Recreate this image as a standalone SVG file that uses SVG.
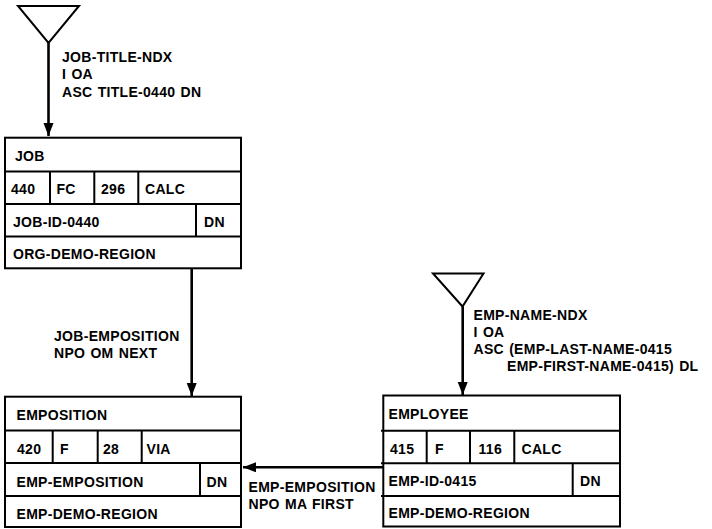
<svg xmlns="http://www.w3.org/2000/svg" width="712" height="529" viewBox="0 0 712 529">
<style>
  text { font-family: "Liberation Sans", Arial, sans-serif; font-size: 14px; font-weight: bold; fill: #000; letter-spacing: 0.3px; word-spacing: 1px; }
  .box { fill: #fff; stroke: #000; stroke-width: 2; }
  .div { stroke: #000; stroke-width: 2; fill: none; }
  .conn { stroke: #000; stroke-width: 2.6; fill: none; }
  .tri { fill: none; stroke: #000; stroke-width: 2; stroke-linejoin: miter; }
</style>
<defs>
  <marker id="arr" markerUnits="userSpaceOnUse" markerWidth="14" markerHeight="12" refX="13" refY="5" orient="auto">
    <path d="M0,0 L13,5 L0,10 Z" fill="#000"/>
  </marker>
</defs>
<rect width="712" height="529" fill="#fff"/>

<g id="connectors">
  <g id="job-title-ndx">
    <polygon class="tri" points="18,6 79,6 48.5,43"/>
    <line class="conn" x1="48.5" y1="43" x2="48.5" y2="136" marker-end="url(#arr)"/>
    <text x="62" y="61.5">JOB-TITLE-NDX</text>
    <text x="62" y="79">I OA</text>
    <text x="62" y="96.5">ASC TITLE-0440 DN</text>
  </g>
  <g id="job-emposition">
    <line class="conn" x1="191.7" y1="269" x2="191.7" y2="396" marker-end="url(#arr)"/>
    <text x="54" y="341">JOB-EMPOSITION</text>
    <text x="54" y="358">NPO OM NEXT</text>
  </g>
  <g id="emp-name-ndx">
    <polygon class="tri" points="433,273.5 483.5,273.5 462.5,306.5"/>
    <line class="conn" x1="462.7" y1="306.5" x2="462.7" y2="395" marker-end="url(#arr)"/>
    <text x="473.5" y="319.5">EMP-NAME-NDX</text>
    <text x="473.5" y="337">I OA</text>
    <text x="473.5" y="354">ASC (EMP-LAST-NAME-0415</text>
    <text x="507" y="371">EMP-FIRST-NAME-0415) DL</text>
  </g>
  <g id="emp-emposition">
    <line class="conn" x1="383" y1="467.3" x2="243" y2="467.3" marker-end="url(#arr)"/>
    <text x="248.5" y="491.5">EMP-EMPOSITION</text>
    <text x="248.5" y="508.5">NPO MA FIRST</text>
  </g>
</g>

<g id="job">
  <rect class="box" x="5" y="137.7" width="236" height="130.6"/>
  <line class="div" x1="5" y1="171.5" x2="241" y2="171.5"/>
  <line class="div" x1="5" y1="204" x2="241" y2="204"/>
  <line class="div" x1="5" y1="236.5" x2="241" y2="236.5"/>
  <line class="div" x1="50" y1="171.5" x2="50" y2="204"/>
  <line class="div" x1="94.3" y1="171.5" x2="94.3" y2="204"/>
  <line class="div" x1="138.3" y1="171.5" x2="138.3" y2="204"/>
  <line class="div" x1="196" y1="204" x2="196" y2="236.5"/>
  <text x="15" y="161">JOB</text>
  <text x="11" y="194">440</text>
  <text x="56.5" y="194">FC</text>
  <text x="101" y="194">296</text>
  <text x="145" y="194">CALC</text>
  <text x="13" y="226.5">JOB-ID-0440</text>
  <text x="204" y="226.5">DN</text>
  <text x="13" y="258.5">ORG-DEMO-REGION</text>
</g>

<g id="emposition">
  <rect class="box" x="5" y="396.7" width="236" height="130.3"/>
  <line class="div" x1="5" y1="430.5" x2="241" y2="430.5"/>
  <line class="div" x1="5" y1="463" x2="241" y2="463"/>
  <line class="div" x1="5" y1="496" x2="241" y2="496"/>
  <line class="div" x1="52.7" y1="430.5" x2="52.7" y2="463"/>
  <line class="div" x1="97.7" y1="430.5" x2="97.7" y2="463"/>
  <line class="div" x1="141.7" y1="430.5" x2="141.7" y2="463"/>
  <line class="div" x1="200" y1="463" x2="200" y2="496"/>
  <text x="16.5" y="419.5">EMPOSITION</text>
  <text x="17" y="454">420</text>
  <text x="60" y="454">F</text>
  <text x="103" y="454">28</text>
  <text x="146.5" y="454">VIA</text>
  <text x="16.5" y="487">EMP-EMPOSITION</text>
  <text x="206.5" y="487">DN</text>
  <text x="16.5" y="519">EMP-DEMO-REGION</text>
</g>

<g id="employee">
  <rect class="box" x="383.3" y="395.5" width="236.7" height="131"/>
  <line class="div" x1="381" y1="430.7" x2="620" y2="430.7"/>
  <line class="div" x1="381" y1="463.3" x2="620" y2="463.3"/>
  <line class="div" x1="381" y1="496" x2="620" y2="496"/>
  <line class="div" x1="426.7" y1="430.7" x2="426.7" y2="463.3"/>
  <line class="div" x1="470" y1="430.7" x2="470" y2="463.3"/>
  <line class="div" x1="514.3" y1="430.7" x2="514.3" y2="463.3"/>
  <line class="div" x1="572.7" y1="463.3" x2="572.7" y2="496"/>
  <text x="388.5" y="418.5">EMPLOYEE</text>
  <text x="390" y="453.5">415</text>
  <text x="435" y="453.5">F</text>
  <text x="478.5" y="453.5">116</text>
  <text x="521.5" y="453.5">CALC</text>
  <text x="388.5" y="486">EMP-ID-0415</text>
  <text x="580" y="486">DN</text>
  <text x="388.5" y="517.5">EMP-DEMO-REGION</text>
</g>
</svg>
